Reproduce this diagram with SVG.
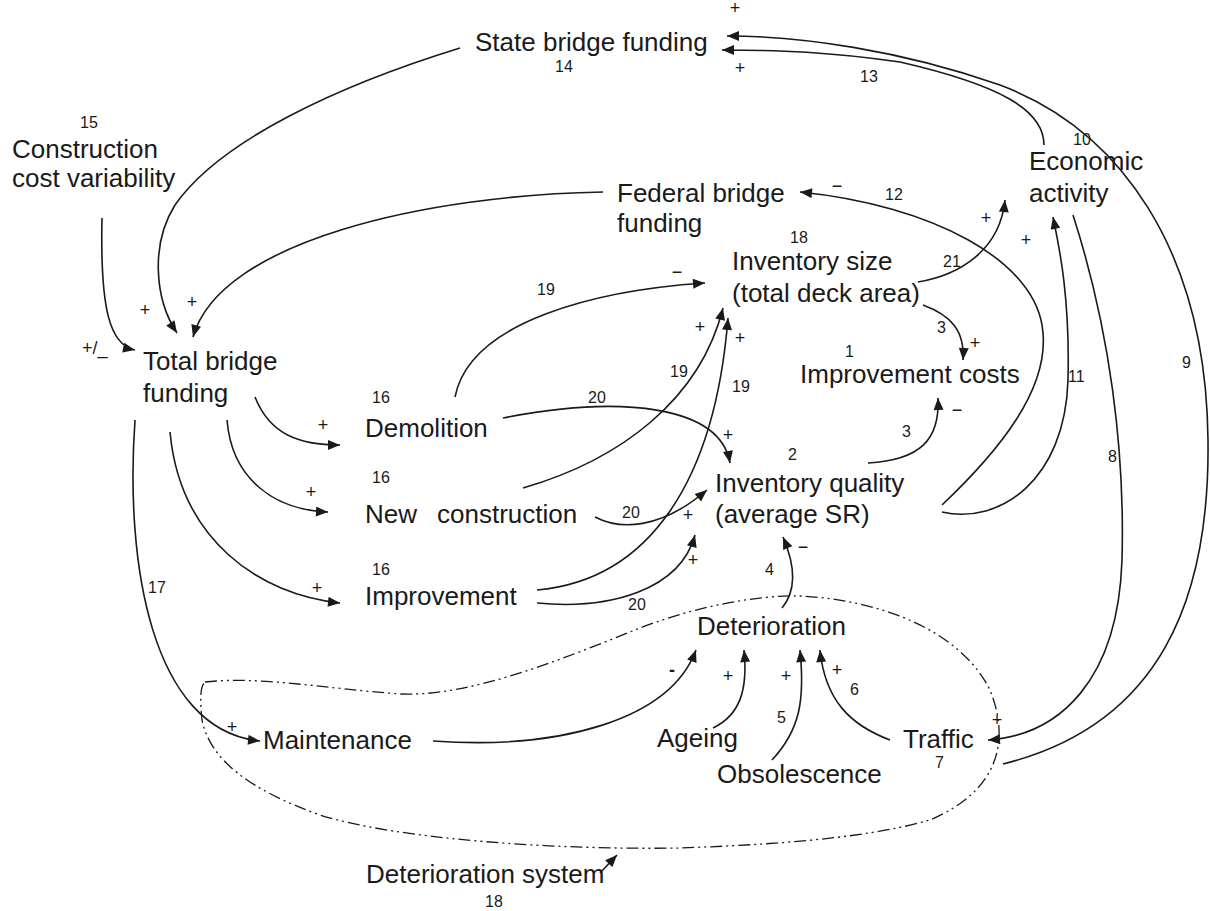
<svg xmlns="http://www.w3.org/2000/svg" width="1210" height="911" viewBox="0 0 1210 911">
<style>
  .n { font-family: "Liberation Sans", Arial, sans-serif; font-size: 26px; fill: #1a1a1a; }
  .num { font-family: "Liberation Sans", Arial, sans-serif; font-size: 16px; fill: #1a1a1a; }
  .sg { font-family: "Liberation Sans", Arial, sans-serif; font-size: 18px; fill: #1a1a1a; text-anchor: middle; }
  .c { fill: none; stroke: #1a1a1a; stroke-width: 1.6; marker-end: url(#ah); }
  .cn { fill: none; stroke: #1a1a1a; stroke-width: 1.6; }
  .sys { fill: none; stroke: #1a1a1a; stroke-width: 1.3; stroke-dasharray: 12 4 2 4 2 4; }
</style>
<defs>
  <marker id="ah" viewBox="0 0 12 10" refX="12" refY="5" markerWidth="13" markerHeight="10" markerUnits="userSpaceOnUse" orient="auto">
    <path d="M0,0 L12,5 L0,10 z" fill="#1a1a1a"/>
  </marker>
</defs>
<rect width="1210" height="911" fill="#ffffff"/>

<g id="deterioration-system-boundary">
  <path class="sys" d="M205,682 C260,676 320,688 400,694 C470,697 560,660 640,628 C700,605 760,595 800,596 C880,600 960,630 990,690 C1010,740 1000,790 930,820 C860,840 760,845 680,848 C560,850 400,840 320,815 C250,790 210,760 202,720 C200,700 200,686 205,682 Z"/>
</g>

<g id="connectors">
  <!-- 9: Traffic -> State bridge funding -->
  <path class="c" d="M1003,764 C1160,725 1210,600 1208,440 C1206,250 1120,130 1000,85 C900,50 800,36 727,36"/>
  <!-- 13/10: Economic activity -> State bridge funding -->
  <path class="c" d="M1044,145 C1044,110 1000,85 900,62 C830,52 780,50 722,50"/>
  <!-- 8: Economic activity -> Traffic -->
  <path class="c" d="M1073,215 C1110,330 1125,450 1122,560 C1118,680 1060,735 988,740"/>
  <!-- 11: Inventory quality -> Economic activity -->
  <path class="c" d="M942,512 C1000,525 1065,480 1068,380 C1070,300 1060,250 1053,217"/>
  <!-- 12: Inventory quality -> Federal bridge funding -->
  <path class="c" d="M942,505 C1000,450 1048,390 1043,333 C1038,260 930,205 800,192"/>
  <!-- 21: Inventory size -> Economic activity -->
  <path class="c" d="M918,282 C960,275 1000,250 1005,200"/>
  <!-- 3: Inventory size -> Improvement costs -->
  <path class="c" d="M923,305 C950,315 965,330 963,360"/>
  <!-- 3: Inventory quality -> Improvement costs -->
  <path class="c" d="M868,463 C920,460 940,440 938,398"/>
  <!-- 4: Deterioration -> Inventory quality -->
  <path class="c" d="M782,608 C797,590 795,565 783,537"/>
  <!-- Construction cost variability -> Total bridge funding -->
  <path class="c" d="M102,218 C100,310 110,345 135,350"/>
  <!-- State -> Total -->
  <path class="c" d="M460,48 C340,85 220,140 175,205 C150,245 155,300 177,333"/>
  <!-- Federal -> Total -->
  <path class="c" d="M603,192 C430,195 220,240 193,337"/>
  <!-- Total -> Demolition / New / Improvement / Maintenance -->
  <path class="c" d="M255,397 C270,435 300,445 340,445"/>
  <path class="c" d="M227,420 C232,480 275,510 328,512"/>
  <path class="c" d="M170,432 C180,540 260,595 340,603"/>
  <path class="c" d="M135,420 C125,560 150,730 260,741"/>
  <!-- 19/20 -->
  <path class="c" d="M455,397 C470,320 600,290 705,283"/>
  <path class="c" d="M503,418 C620,395 720,405 730,463"/>
  <path class="c" d="M523,488 C620,460 700,400 723,308"/>
  <path class="c" d="M595,517 C620,530 660,530 707,490"/>
  <path class="c" d="M537,590 C650,580 715,480 728,318"/>
  <path class="c" d="M537,603 C610,610 680,590 695,535"/>
  <!-- into Deterioration -->
  <path class="c" d="M433,741 C560,750 670,720 696,650"/>
  <path class="c" d="M713,728 C740,715 748,690 744,650"/>
  <path class="c" d="M772,760 C800,730 805,700 800,650"/>
  <path class="c" d="M890,740 C850,725 825,700 820,650"/>
  <!-- Deterioration system pointer -->
  <path class="c" d="M600,873 L617,855"/>

  <!-- polarity signs -->
  <text class="sg" x="735" y="14">+</text>
  <text class="sg" x="740" y="74">+</text>
  <text class="sg" x="145" y="316">+</text>
  <text class="sg" x="192" y="308">+</text>
  <text class="sg" x="82" y="354" style="text-anchor:start">+/_</text>
  <text class="sg" x="323" y="431">+</text>
  <text class="sg" x="311" y="498">+</text>
  <text class="sg" x="317" y="594">+</text>
  <text class="sg" x="232" y="733">+</text>
  <text class="sg" x="700" y="333">+</text>
  <text class="sg" x="740" y="344">+</text>
  <text class="sg" x="728" y="441">+</text>
  <text class="sg" x="688" y="521">+</text>
  <text class="sg" x="693" y="566">+</text>
  <text class="sg" x="975" y="349">+</text>
  <text class="sg" x="986" y="224">+</text>
  <text class="sg" x="1026" y="246">+</text>
  <text class="sg" x="997" y="726">+</text>
  <text class="sg" x="728" y="682">+</text>
  <text class="sg" x="786" y="682">+</text>
  <text class="sg" x="837" y="676">+</text>
  <text class="sg" x="837" y="192">−</text>
  <text class="sg" x="677" y="278">−</text>
  <text class="sg" x="957" y="416">−</text>
  <text class="sg" x="803" y="553">−</text>
  <text class="sg" x="672" y="676" font-weight="bold">-</text>

  <!-- link numbers -->
  <text class="num" x="860" y="82">13</text>
  <text class="num" x="1073" y="145">10</text>
  <text class="num" x="885" y="200">12</text>
  <text class="num" x="943" y="267">21</text>
  <text class="num" x="937" y="333">3</text>
  <text class="num" x="902" y="437">3</text>
  <text class="num" x="765" y="575">4</text>
  <text class="num" x="537" y="295">19</text>
  <text class="num" x="670" y="377">19</text>
  <text class="num" x="732" y="392">19</text>
  <text class="num" x="588" y="403">20</text>
  <text class="num" x="622" y="518">20</text>
  <text class="num" x="628" y="610">20</text>
  <text class="num" x="1068" y="382">11</text>
  <text class="num" x="1108" y="462">8</text>
  <text class="num" x="1182" y="368">9</text>
  <text class="num" x="148" y="593">17</text>
  <text class="num" x="777" y="723">5</text>
  <text class="num" x="850" y="695">6</text>
</g>

<g id="state-bridge-funding">
  <text class="n" x="475" y="51">State bridge funding</text>
  <text class="num" x="555" y="72">14</text>
</g>
<g id="construction-cost-variability">
  <text class="num" x="80" y="128">15</text>
  <text class="n" x="12" y="158">Construction</text>
  <text class="n" x="12" y="187">cost variability</text>
</g>
<g id="federal-bridge-funding">
  <text class="n" x="617" y="202">Federal bridge</text>
  <text class="n" x="617" y="232">funding</text>
</g>
<g id="economic-activity">
  <text class="n" x="1029" y="170">Economic</text>
  <text class="n" x="1029" y="202">activity</text>
</g>
<g id="inventory-size">
  <text class="num" x="790" y="243">18</text>
  <text class="n" x="732" y="270">Inventory size</text>
  <text class="n" x="732" y="302">(total deck area)</text>
</g>
<g id="improvement-costs">
  <text class="num" x="845" y="357">1</text>
  <text class="n" x="800" y="383">Improvement costs</text>
</g>
<g id="total-bridge-funding">
  <text class="n" x="143" y="370">Total bridge</text>
  <text class="n" x="143" y="402">funding</text>
</g>
<g id="demolition">
  <text class="num" x="372" y="403">16</text>
  <text class="n" x="365" y="437">Demolition</text>
</g>
<g id="new-construction">
  <text class="num" x="372" y="483">16</text>
  <text class="n" x="365" y="523">New<tspan x="437">construction</tspan></text>
</g>
<g id="improvement">
  <text class="num" x="372" y="575">16</text>
  <text class="n" x="365" y="605">Improvement</text>
</g>
<g id="inventory-quality">
  <text class="num" x="788" y="460">2</text>
  <text class="n" x="715" y="492">Inventory quality</text>
  <text class="n" x="715" y="523">(average SR)</text>
</g>
<g id="deterioration">
  <text class="n" x="697" y="635">Deterioration</text>
</g>
<g id="maintenance">
  <text class="n" x="263" y="749">Maintenance</text>
</g>
<g id="ageing">
  <text class="n" x="657" y="747">Ageing</text>
</g>
<g id="obsolescence">
  <text class="n" x="717" y="783">Obsolescence</text>
</g>
<g id="traffic">
  <text class="n" x="903" y="748">Traffic</text>
  <text class="num" x="935" y="768">7</text>
</g>
<g id="deterioration-system">
  <text class="n" x="366" y="883">Deterioration system</text>
  <text class="num" x="485" y="907">18</text>
</g>
</svg>
